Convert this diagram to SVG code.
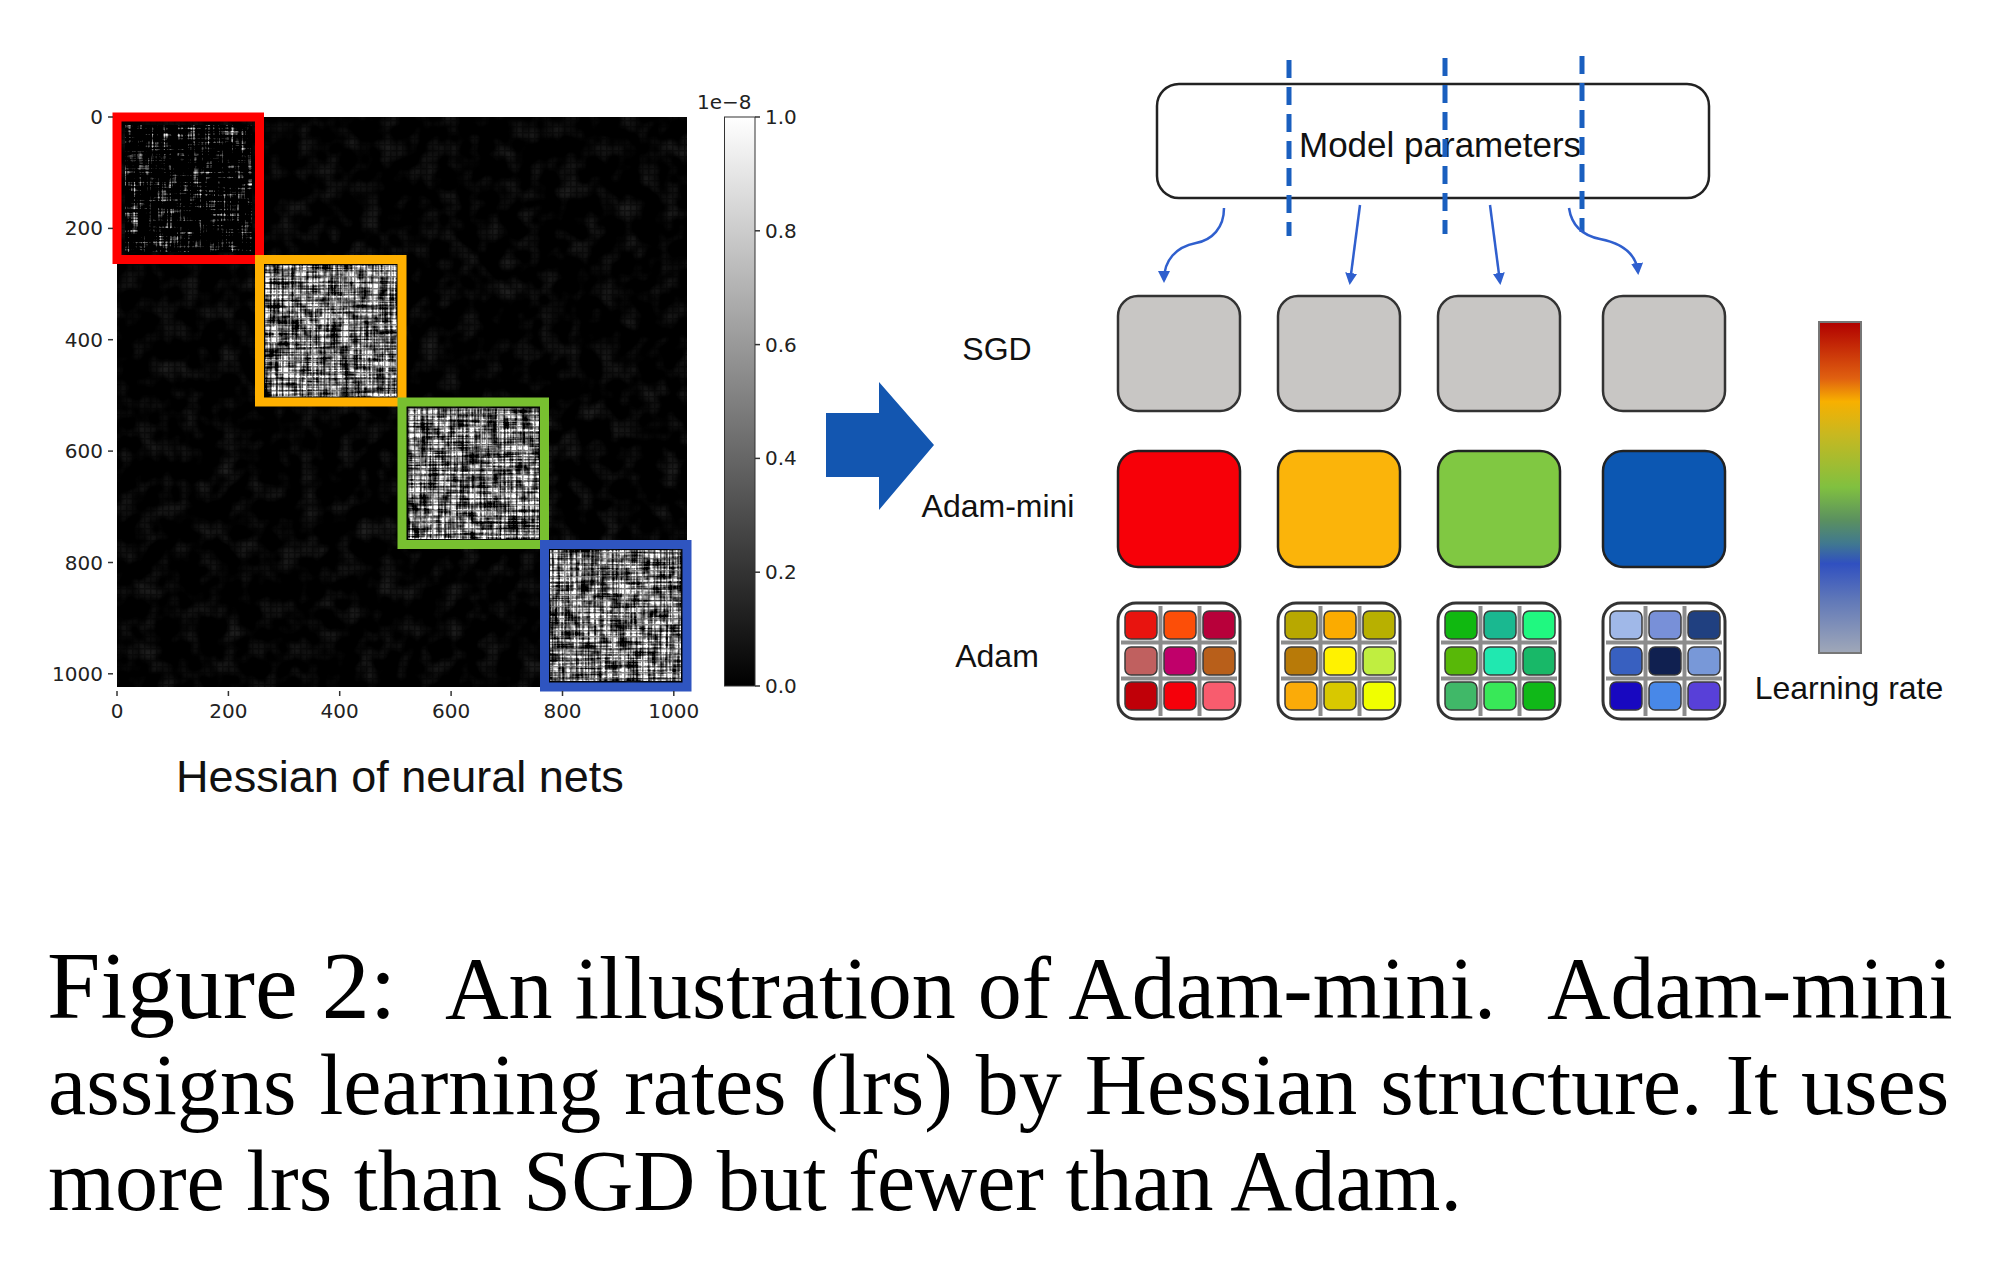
<svg xmlns="http://www.w3.org/2000/svg" width="2000" height="1273" viewBox="0 0 2000 1273">
<defs>
<style>
.tick{font-family:"DejaVu Sans",sans-serif;font-size:20px;fill:#222}
.lbl{font-family:"Liberation Sans",Arial,sans-serif;fill:#111}
.cap{font-family:"Liberation Serif","Times New Roman",serif;fill:#000}
.sgd{fill:#c8c6c4;stroke:#333;stroke-width:2.5}
.mini{stroke:#222;stroke-width:2.5}
.adam{fill:#fff;stroke:#333;stroke-width:3}
.cell{stroke:#3a3a3a;stroke-width:1.5}
.gl{stroke:#8c8c8c;stroke-width:4}
.conn{fill:none;stroke:#2f5fce;stroke-width:2.5}
.dash{stroke:#1a5fbf;stroke-width:5;stroke-dasharray:18 9}
.tk{stroke:#333;stroke-width:1.5}
</style>
<linearGradient id="cbar" x1="0" y1="0" x2="0" y2="1">
<stop offset="0" stop-color="#ffffff"/><stop offset="1" stop-color="#000000"/>
</linearGradient>
<linearGradient id="lr" x1="0" y1="0" x2="0" y2="1">
<stop offset="0" stop-color="#b00000"/><stop offset="0.17" stop-color="#e06010"/><stop offset="0.24" stop-color="#f8b000"/><stop offset="0.34" stop-color="#c8b820"/><stop offset="0.5" stop-color="#80c040"/><stop offset="0.6" stop-color="#5a9060"/><stop offset="0.67" stop-color="#407890"/><stop offset="0.73" stop-color="#3050c0"/><stop offset="0.84" stop-color="#6078b8"/><stop offset="1" stop-color="#a0a8b8"/>
</linearGradient>
<pattern id="grid" width="6" height="6" patternUnits="userSpaceOnUse">
<path d="M0,0.75 H6 M0.75,0 V6" stroke="#000" stroke-width="1.5" stroke-opacity="0.45"/>
</pattern>
<filter id="texB" x="0" y="0" width="1" height="1" color-interpolation-filters="sRGB">
<feTurbulence type="fractalNoise" baseFrequency="0.02 0.5" numOctaves="2" seed="1" result="t1"/>
<feColorMatrix in="t1" type="matrix" values="1 0 0 0 0 1 0 0 0 0 1 0 0 0 0 0 0 0 0 1" result="g1"/>
<feTurbulence type="fractalNoise" baseFrequency="0.5 0.02" numOctaves="2" seed="2" result="t2"/>
<feColorMatrix in="t2" type="matrix" values="1 0 0 0 0 1 0 0 0 0 1 0 0 0 0 0 0 0 0 1" result="g2"/>
<feTurbulence type="fractalNoise" baseFrequency="0.1" numOctaves="3" seed="3" result="t3"/>
<feColorMatrix in="t3" type="matrix" values="1 0 0 0 0 1 0 0 0 0 1 0 0 0 0 0 0 0 0 1" result="g3"/>
<feComposite in="g1" in2="g2" operator="arithmetic" k2="0.5" k3="0.5" result="c1"/>
<feComposite in="c1" in2="g3" operator="arithmetic" k2="0.65" k3="0.35" result="c2"/>
<feComponentTransfer in="c2">
<feFuncR type="linear" slope="5" intercept="-1.95"/><feFuncG type="linear" slope="5" intercept="-1.95"/><feFuncB type="linear" slope="5" intercept="-1.95"/>
</feComponentTransfer>
</filter>
<filter id="texD" x="0" y="0" width="1" height="1" color-interpolation-filters="sRGB">
<feTurbulence type="fractalNoise" baseFrequency="0.02 0.5" numOctaves="2" seed="7" result="t1"/>
<feColorMatrix in="t1" type="matrix" values="1 0 0 0 0 1 0 0 0 0 1 0 0 0 0 0 0 0 0 1" result="g1"/>
<feTurbulence type="fractalNoise" baseFrequency="0.5 0.02" numOctaves="2" seed="8" result="t2"/>
<feColorMatrix in="t2" type="matrix" values="1 0 0 0 0 1 0 0 0 0 1 0 0 0 0 0 0 0 0 1" result="g2"/>
<feTurbulence type="fractalNoise" baseFrequency="0.1" numOctaves="3" seed="9" result="t3"/>
<feColorMatrix in="t3" type="matrix" values="1 0 0 0 0 1 0 0 0 0 1 0 0 0 0 0 0 0 0 1" result="g3"/>
<feComposite in="g1" in2="g2" operator="arithmetic" k2="0.5" k3="0.5" result="c1"/>
<feComposite in="c1" in2="g3" operator="arithmetic" k2="0.65" k3="0.35" result="c2"/>
<feComponentTransfer in="c2">
<feFuncR type="linear" slope="5.5" intercept="-2.95"/><feFuncG type="linear" slope="5.5" intercept="-2.95"/><feFuncB type="linear" slope="5.5" intercept="-2.95"/>
</feComponentTransfer>
</filter>
<filter id="texBg" x="0" y="0" width="1" height="1" color-interpolation-filters="sRGB">
<feTurbulence type="fractalNoise" baseFrequency="0.05" numOctaves="2" seed="4" result="t"/>
<feColorMatrix in="t" type="matrix" values="0.3 0 0 0 -0.14 0.3 0 0 0 -0.14 0.3 0 0 0 -0.14 0 0 0 0 1"/>
</filter>
<marker id="ah" viewBox="0 0 12 12" refX="9" refY="6" markerWidth="12" markerHeight="12" markerUnits="userSpaceOnUse" orient="auto">
<path d="M0,0 L12,6 L0,12 z" fill="#2f5fce"/>
</marker>
</defs>
<rect width="2000" height="1273" fill="#fff"/>

<g id="heatmap">
<rect x="117" y="117" width="570" height="570" fill="#030303"/>
<rect x="117" y="117" width="570" height="570" filter="url(#texBg)"/>
<rect x="125" y="125" width="127" height="127" filter="url(#texD)"/>
<rect x="265" y="265" width="132" height="132" filter="url(#texB)"/>
<rect x="408" y="408" width="131" height="131" filter="url(#texB)"/>
<rect x="550" y="550" width="131" height="131" filter="url(#texB)"/>
<rect x="117" y="117" width="570" height="570" fill="url(#grid)"/>
<rect x="117" y="117" width="142.5" height="142.5" fill="none" stroke="#ff0000" stroke-width="9"/>
<rect x="259.5" y="259.5" width="142.5" height="142.5" fill="none" stroke="#ffb000" stroke-width="9"/>
<rect x="402" y="402" width="142.5" height="142.5" fill="none" stroke="#78c030" stroke-width="9"/>
<rect x="544.5" y="544.5" width="142.5" height="142.5" fill="none" stroke="#2f55c0" stroke-width="9"/>
<g class="tk">
<line x1="108" y1="117" x2="113" y2="117"/><line x1="108" y1="228.4" x2="113" y2="228.4"/><line x1="108" y1="339.7" x2="113" y2="339.7"/><line x1="108" y1="451.1" x2="113" y2="451.1"/><line x1="108" y1="562.5" x2="113" y2="562.5"/><line x1="108" y1="673.8" x2="113" y2="673.8"/>
<line x1="117" y1="691" x2="117" y2="696"/><line x1="228.4" y1="691" x2="228.4" y2="696"/><line x1="339.7" y1="691" x2="339.7" y2="696"/><line x1="451.1" y1="691" x2="451.1" y2="696"/><line x1="562.5" y1="691" x2="562.5" y2="696"/><line x1="673.8" y1="691" x2="673.8" y2="696"/>
</g>
<g class="tick" text-anchor="end">
<text x="103" y="124">0</text><text x="103" y="235.4">200</text><text x="103" y="346.7">400</text><text x="103" y="458.1">600</text><text x="103" y="569.5">800</text><text x="103" y="680.8">1000</text>
</g>
<g class="tick" text-anchor="middle">
<text x="117" y="718">0</text><text x="228.4" y="718">200</text><text x="339.7" y="718">400</text><text x="451.1" y="718">600</text><text x="562.5" y="718">800</text><text x="673.8" y="718">1000</text>
</g>
</g>

<g id="colorbar">
<rect x="724.5" y="117" width="30.5" height="569" fill="url(#cbar)" stroke="#333" stroke-width="1"/>
<g class="tk">
<line x1="755" y1="117" x2="760" y2="117"/><line x1="755" y1="230.8" x2="760" y2="230.8"/><line x1="755" y1="344.6" x2="760" y2="344.6"/><line x1="755" y1="458.4" x2="760" y2="458.4"/><line x1="755" y1="572.2" x2="760" y2="572.2"/><line x1="755" y1="686" x2="760" y2="686"/>
</g>
<g class="tick">
<text x="765" y="124">1.0</text><text x="765" y="237.8">0.8</text><text x="765" y="351.6">0.6</text><text x="765" y="465.4">0.4</text><text x="765" y="579.2">0.2</text><text x="765" y="693">0.0</text>
<text x="697" y="109">1e−8</text>
</g>
</g>

<g id="hessian-label">
<text class="lbl" x="400" y="792" font-size="45" text-anchor="middle">Hessian of neural nets</text>
</g>

<g id="big-arrow">
<polygon points="826,413 879,413 879,382 934,445 879,510 879,477 826,477" fill="#1356b0"/>
</g>

<g id="model-parameters">
<rect x="1157" y="84" width="552" height="114" rx="22" fill="#fff" stroke="#222" stroke-width="2.5"/>
<text class="lbl" x="1299" y="157" font-size="35">Model parameters</text>
</g>

<g id="dividers">
<line class="dash" x1="1289" y1="60" x2="1289" y2="236"/>
<line class="dash" x1="1445" y1="58" x2="1445" y2="234"/>
<line class="dash" x1="1582" y1="56" x2="1582" y2="232"/>
</g>

<g id="connectors">
<path class="conn" d="M1224,208 C1224,228 1212,240 1196,243 C1176,247 1164,260 1164,280" marker-end="url(#ah)"/>
<path class="conn" d="M1360,205 L1350,282" marker-end="url(#ah)"/>
<path class="conn" d="M1490,205 L1500,282" marker-end="url(#ah)"/>
<path class="conn" d="M1569,208 C1572,228 1585,236 1600,239 C1620,243 1636,252 1638,272" marker-end="url(#ah)"/>
</g>

<g id="row-labels" class="lbl" font-size="32" text-anchor="middle">
<text x="997" y="360">SGD</text>
<text x="998" y="517">Adam-mini</text>
<text x="997" y="667">Adam</text>
</g>

<g id="sgd-row">
<g id="sgd-1"><rect class="sgd" x="1118" y="296" width="122" height="115" rx="20"/></g>
<g id="sgd-2"><rect class="sgd" x="1278" y="296" width="122" height="115" rx="20"/></g>
<g id="sgd-3"><rect class="sgd" x="1438" y="296" width="122" height="115" rx="20"/></g>
<g id="sgd-4"><rect class="sgd" x="1603" y="296" width="122" height="115" rx="20"/></g>
</g>

<g id="adam-mini-row">
<g id="mini-1"><rect class="mini" x="1118" y="451" width="122" height="116" rx="20" fill="#f70008"/></g>
<g id="mini-2"><rect class="mini" x="1278" y="451" width="122" height="116" rx="20" fill="#fbb40a"/></g>
<g id="mini-3"><rect class="mini" x="1438" y="451" width="122" height="116" rx="20" fill="#80c842"/></g>
<g id="mini-4"><rect class="mini" x="1603" y="451" width="122" height="116" rx="20" fill="#0c57b2"/></g>
</g>

<g id="adam-row">
<g id="adam-1" transform="translate(1118,603)">
<rect class="adam" width="122" height="116" rx="18"/>
<line class="gl" x1="3" y1="39.5" x2="119" y2="39.5"/><line class="gl" x1="3" y1="75.5" x2="119" y2="75.5"/>
<line class="gl" x1="42.5" y1="3" x2="42.5" y2="113"/><line class="gl" x1="81.5" y1="3" x2="81.5" y2="113"/>
<rect class="cell" x="7" y="8" width="32" height="28" rx="6" fill="#e8140f"/><rect class="cell" x="46" y="8" width="32" height="28" rx="6" fill="#fc4e08"/><rect class="cell" x="85" y="8" width="32" height="28" rx="6" fill="#b8003a"/>
<rect class="cell" x="7" y="44" width="32" height="28" rx="6" fill="#c0605f"/><rect class="cell" x="46" y="44" width="32" height="28" rx="6" fill="#c0006a"/><rect class="cell" x="85" y="44" width="32" height="28" rx="6" fill="#b85f1a"/>
<rect class="cell" x="7" y="79" width="32" height="28" rx="6" fill="#c00008"/><rect class="cell" x="46" y="79" width="32" height="28" rx="6" fill="#f5000a"/><rect class="cell" x="85" y="79" width="32" height="28" rx="6" fill="#f85c6e"/>
</g>
<g id="adam-2" transform="translate(1278,603)">
<rect class="adam" width="122" height="116" rx="18"/>
<line class="gl" x1="3" y1="39.5" x2="119" y2="39.5"/><line class="gl" x1="3" y1="75.5" x2="119" y2="75.5"/>
<line class="gl" x1="42.5" y1="3" x2="42.5" y2="113"/><line class="gl" x1="81.5" y1="3" x2="81.5" y2="113"/>
<rect class="cell" x="7" y="8" width="32" height="28" rx="6" fill="#b8a800"/><rect class="cell" x="46" y="8" width="32" height="28" rx="6" fill="#fbab00"/><rect class="cell" x="85" y="8" width="32" height="28" rx="6" fill="#b8b000"/>
<rect class="cell" x="7" y="44" width="32" height="28" rx="6" fill="#b87a08"/><rect class="cell" x="46" y="44" width="32" height="28" rx="6" fill="#fff200"/><rect class="cell" x="85" y="44" width="32" height="28" rx="6" fill="#c0ee40"/>
<rect class="cell" x="7" y="79" width="32" height="28" rx="6" fill="#fbab08"/><rect class="cell" x="46" y="79" width="32" height="28" rx="6" fill="#d8c800"/><rect class="cell" x="85" y="79" width="32" height="28" rx="6" fill="#f0ff00"/>
</g>
<g id="adam-3" transform="translate(1438,603)">
<rect class="adam" width="122" height="116" rx="18"/>
<line class="gl" x1="3" y1="39.5" x2="119" y2="39.5"/><line class="gl" x1="3" y1="75.5" x2="119" y2="75.5"/>
<line class="gl" x1="42.5" y1="3" x2="42.5" y2="113"/><line class="gl" x1="81.5" y1="3" x2="81.5" y2="113"/>
<rect class="cell" x="7" y="8" width="32" height="28" rx="6" fill="#10b810"/><rect class="cell" x="46" y="8" width="32" height="28" rx="6" fill="#1ab890"/><rect class="cell" x="85" y="8" width="32" height="28" rx="6" fill="#20f880"/>
<rect class="cell" x="7" y="44" width="32" height="28" rx="6" fill="#58b808"/><rect class="cell" x="46" y="44" width="32" height="28" rx="6" fill="#20e8b0"/><rect class="cell" x="85" y="44" width="32" height="28" rx="6" fill="#18b868"/>
<rect class="cell" x="7" y="79" width="32" height="28" rx="6" fill="#40b868"/><rect class="cell" x="46" y="79" width="32" height="28" rx="6" fill="#38e858"/><rect class="cell" x="85" y="79" width="32" height="28" rx="6" fill="#10b818"/>
</g>
<g id="adam-4" transform="translate(1603,603)">
<rect class="adam" width="122" height="116" rx="18"/>
<line class="gl" x1="3" y1="39.5" x2="119" y2="39.5"/><line class="gl" x1="3" y1="75.5" x2="119" y2="75.5"/>
<line class="gl" x1="42.5" y1="3" x2="42.5" y2="113"/><line class="gl" x1="81.5" y1="3" x2="81.5" y2="113"/>
<rect class="cell" x="7" y="8" width="32" height="28" rx="6" fill="#a0b8e8"/><rect class="cell" x="46" y="8" width="32" height="28" rx="6" fill="#7890d8"/><rect class="cell" x="85" y="8" width="32" height="28" rx="6" fill="#204080"/>
<rect class="cell" x="7" y="44" width="32" height="28" rx="6" fill="#3860c0"/><rect class="cell" x="46" y="44" width="32" height="28" rx="6" fill="#102050"/><rect class="cell" x="85" y="44" width="32" height="28" rx="6" fill="#7898d8"/>
<rect class="cell" x="7" y="79" width="32" height="28" rx="6" fill="#1808c0"/><rect class="cell" x="46" y="79" width="32" height="28" rx="6" fill="#4888e8"/><rect class="cell" x="85" y="79" width="32" height="28" rx="6" fill="#5840d8"/>
</g>
</g>

<g id="learning-rate">
<rect x="1819" y="322" width="42" height="331" fill="url(#lr)" stroke="#777" stroke-width="2"/>
<text class="lbl" x="1849" y="699" font-size="32" text-anchor="middle">Learning rate</text>
</g>

<g id="caption" class="cap">
<text y="1018" font-size="88"><tspan x="47" font-size="96">Figure 2:</tspan><tspan x="445">An illustration of Adam-mini.</tspan><tspan x="1547">Adam-mini</tspan></text>
<text x="48" y="1114" font-size="86" word-spacing="1.5">assigns learning rates (lrs) by Hessian structure. It uses</text>
<text x="48" y="1210" font-size="86" textLength="1414" lengthAdjust="spacing">more lrs than SGD but fewer than Adam.</text>
</g>
</svg>
